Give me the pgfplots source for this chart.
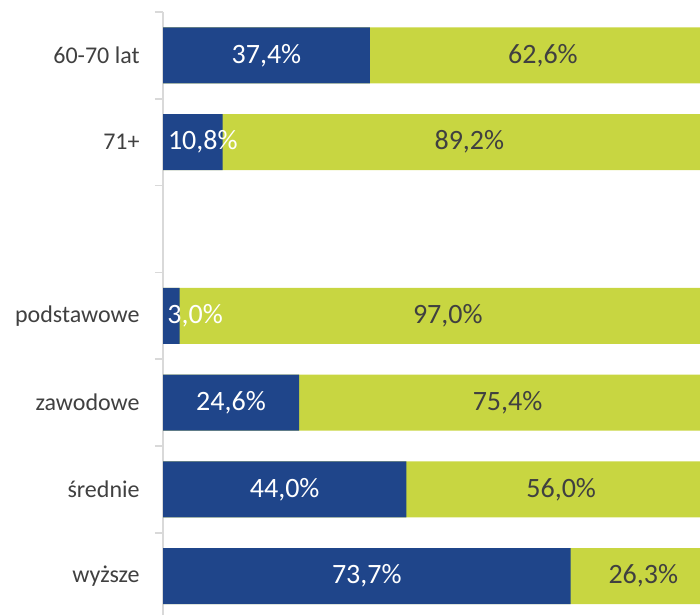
\documentclass[border=0pt]{standalone}
\usepackage{pgfplots}
\pgfplotsset{compat=1.18}
\usepackage{pgfplotstable}
\usepackage{fontspec}
\setmainfont{Carlito}

\definecolor{barblue}{RGB}{31,69,138}
\definecolor{bargreen}{RGB}{200,214,65}
\definecolor{txt}{RGB}{64,64,64}
\definecolor{axisgrey}{RGB}{217,217,217}

% y: row position, a: first share, b: second share, la: where the first label sits
\pgfplotstableread{
y  a     b     la
6  37.4  62.6  18.7
5  10.8  89.2  7.2
3  3.0   97.0  5.8
2  24.6  75.4  12.3
1  44.0  56.0  22.0
0  73.7  26.3  36.85
}\data

\begin{document}
\begin{tikzpicture}
\begin{axis}[
  name=ax,
  scale only axis,
  width=268.5pt, height=301.5pt,
  xmin=0, xmax=97.1,
  ymin=-0.447, ymax=6.5,
  axis lines*=left,
  x axis line style={draw=none},
  xtick=\empty,
  ytick={0,1,2,3,5,6},
  yticklabels={wyższe, średnie, zawodowe, podstawowe, 71+, 60-70 lat},
  major tick length=0pt,
  minor ytick={0.5,1.5,...,6.5},
  minor tick length=4pt,
  tick align=outside,
  every tick/.style={axisgrey, line width=0.75pt},
  y axis line style={axisgrey, line width=0.75pt},
  yticklabel style={font=\fontsize{12}{14}\selectfont, text=txt, inner sep=0pt},
  yticklabel shift=11.5pt,
  nodes near coords style={font=\fontsize{14}{16}\selectfont, anchor=center},
]
% full bars, then the first share over them
\addplot[xbar, bar width=0.645, bar shift=0pt, fill=bargreen, draw=none]
  table[x expr=\thisrow{a}+\thisrow{b}, y=y]{\data};
\addplot[xbar, bar width=0.645, bar shift=0pt, fill=barblue, draw=none]
  table[x=a, y=y]{\data};

% value labels
\addplot[draw=none, mark=none, point meta=\thisrow{a},
  nodes near coords={\pgfmathprintnumber[assume math mode=true, fixed, fixed zerofill, precision=1, use comma]{\pgfplotspointmeta}\%},
  every node near coord/.append style={text=white}]
  table[x=la, y=y]{\data};
\addplot[draw=none, mark=none, point meta=\thisrow{b},
  nodes near coords={\pgfmathprintnumber[assume math mode=true, fixed, fixed zerofill, precision=1, use comma]{\pgfplotspointmeta}\%},
  every node near coord/.append style={text=txt}]
  table[x expr=\thisrow{a}+\thisrow{b}/2, y=y]{\data};
\end{axis}
\pgfresetboundingbox
\path[use as bounding box] ([xshift=-81.5pt]ax.south west) rectangle ([yshift=6pt]ax.north east);
\end{tikzpicture}
\end{document}
